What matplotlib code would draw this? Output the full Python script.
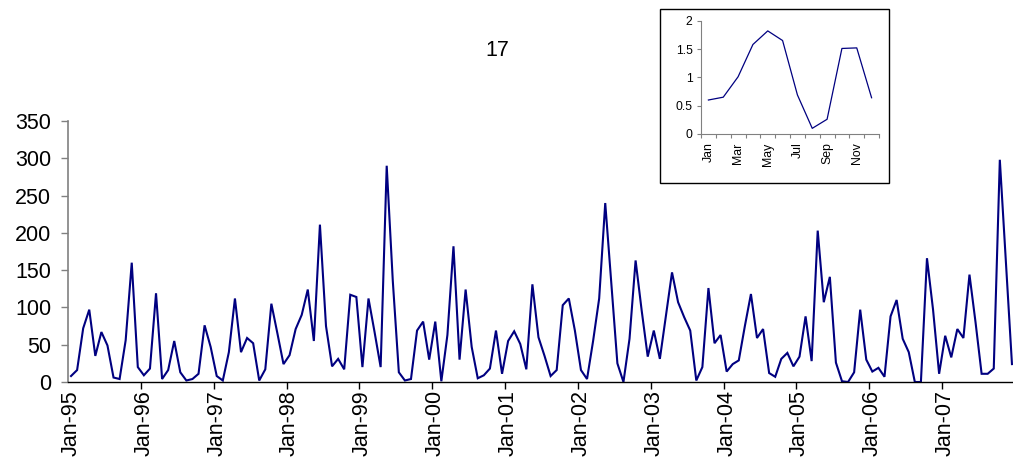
import matplotlib
matplotlib.use("Agg")
import matplotlib.pyplot as plt
import numpy as np
from matplotlib.patches import Rectangle

plt.rcParams['font.family'] = ['Liberation Sans', 'DejaVu Sans']

# ---- data ----
title_text = "17"
year_labels = ["Jan-95", "Jan-96", "Jan-97", "Jan-98", "Jan-99", "Jan-00", "Jan-01",
               "Jan-02", "Jan-03", "Jan-04", "Jan-05", "Jan-06", "Jan-07"]
values_1995 = [8, 16, 72, 97, 35, 67, 49, 6, 4, 56, 160, 20]
values_1996 = [9, 18, 119, 4, 16, 55, 13, 2, 4, 11, 76, 47]
values_1997 = [8, 2, 40, 112, 40, 59, 52, 2, 17, 105, 65, 24]
values_1998 = [36, 71, 90, 124, 55, 211, 75, 21, 31, 17, 117, 114]
values_1999 = [20, 112, 67, 20, 290, 136, 13, 2, 4, 69, 81, 30]
values_2000 = [81, 1, 63, 182, 30, 124, 47, 5, 9, 18, 69, 11]
values_2001 = [55, 68, 51, 17, 131, 60, 35, 8, 16, 103, 112, 69]
values_2002 = [16, 4, 55, 112, 240, 132, 25, 0, 58, 163, 96, 34]
values_2003 = [69, 31, 89, 147, 107, 87, 69, 2, 20, 126, 52, 63]
values_2004 = [14, 24, 29, 75, 118, 59, 71, 12, 7, 31, 39, 21]
values_2005 = [34, 88, 28, 203, 107, 141, 26, 1, 0, 13, 97, 30]
values_2006 = [14, 19, 7, 88, 110, 58, 40, 0, 0, 166, 97, 11]
values_2007 = [62, 33, 71, 59, 144, 80, 11, 11, 18, 298, 160, 24]

monthly_series = (values_1995 + values_1996 + values_1997 + values_1998 + values_1999 +
                  values_2000 + values_2001 + values_2002 + values_2003 + values_2004 +
                  values_2005 + values_2006 + values_2007)

inset_months = ["Jan", "Feb", "Mar", "Apr", "May", "Jun", "Jul", "Aug", "Sep", "Oct", "Nov", "Dec"]
inset_values = [0.60, 0.65, 1.01, 1.58, 1.82, 1.65, 0.69, 0.10, 0.26, 1.51, 1.52, 0.64]
main_yticks = [0, 50, 100, 150, 200, 250, 300, 350]
inset_yticks = [0, 0.5, 1, 1.5, 2]
inset_yticklabels = ["0", "0.5", "1", "1.5", "2"]

W, H = 1013, 472
fig = plt.figure(figsize=(W / 100, H / 100), dpi=100)
fig.patch.set_facecolor("white")

line_color = "#000080"
gray = "#808080"
main_fs = 15.5
inset_fs = 8.8

# ---- main axes ----
ax = fig.add_axes([68 / W, (H - 382) / H, 947 / W, 261 / H])
n = len(monthly_series)
x = np.arange(n)
ax.plot(x, monthly_series, color=line_color, lw=1.5, solid_joinstyle="miter")
ax.set_xlim(-0.5, n - 0.5)
ax.set_ylim(0, 350)
for s in ["top", "right"]:
    ax.spines[s].set_visible(False)
ax.spines["left"].set_color(gray)
ax.spines["left"].set_linewidth(1.2)
ax.spines["bottom"].set_color("black")
ax.spines["bottom"].set_linewidth(1.0)
ax.set_yticks(main_yticks)
ax.tick_params(axis="y", direction="out", length=5, width=1.0, color=gray,
               labelsize=main_fs, pad=7)
major_pos = np.arange(0, n, 12)[:len(year_labels)]
ax.set_xticks(major_pos)
ax.set_xticklabels(year_labels, rotation=90)
ax.tick_params(axis="x", which="major", length=0, labelsize=main_fs, pad=6)
ax.set_xticks(np.arange(11.5, n, 12), minor=True)
ax.tick_params(axis="x", which="minor", direction="out", length=5, width=1.0, color="black")

fig.text(497 / W, 1 - 50 / H, title_text, ha="center", va="center", fontsize=main_fs)

# ---- inset ----
fig.patches.append(Rectangle((660 / W, (H - 183) / H), 229 / W, 174 / H,
                             transform=fig.transFigure, fill=False,
                             edgecolor="black", lw=1.0, zorder=5))
ia = fig.add_axes([701 / W, (H - 134) / H, 178 / W, 113.3 / H])
ia.patch.set_alpha(0)
ix = np.arange(len(inset_values))
ia.plot(ix, inset_values, color=line_color, lw=0.9)
ia.set_xlim(-0.5, len(inset_values) - 0.5)
ia.set_ylim(0, 2)
for s in ["top", "right"]:
    ia.spines[s].set_visible(False)
ia.spines["left"].set_color(gray)
ia.spines["bottom"].set_color(gray)
ia.spines["left"].set_linewidth(0.8)
ia.spines["bottom"].set_linewidth(0.8)
ia.set_yticks(inset_yticks)
ia.set_yticklabels(inset_yticklabels)
ia.tick_params(axis="y", direction="out", length=3, width=0.8, color=gray,
               labelsize=inset_fs, pad=3)
ia.set_xticks(ix[::2])
ia.set_xticklabels(inset_months[::2], rotation=90)
ia.tick_params(axis="x", which="major", length=0, labelsize=inset_fs, pad=6)
ia.set_xticks(np.arange(-0.5, len(inset_values), 1), minor=True)
ia.tick_params(axis="x", which="minor", direction="out", length=3, width=0.8, color=gray)

fig.savefig("out.png", dpi=100)
